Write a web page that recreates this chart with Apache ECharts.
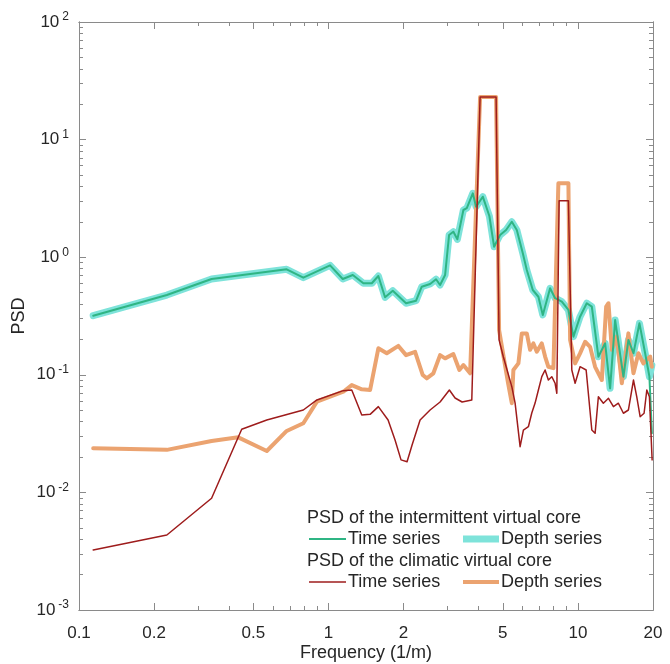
<!DOCTYPE html>
<html>
<head>
<meta charset="utf-8">
<script src="https://cdn.jsdelivr.net/npm/echarts@6/dist/echarts.min.js"></script>
<style>
  html, body { margin: 0; padding: 0; background: #fff; }
  #chart { width: 670px; height: 664px; }
</style>
</head>
<body>
<div id="chart"></div>
<script>
// frequency (1/m), PSD
var intermittentTime = [
  [0.114,0.318],[0.225,0.477],[0.340,0.653],[0.680,0.789],[0.793,0.670],[1.015,0.853],
  [1.141,0.653],[1.252,0.706],[1.380,0.600],[1.492,0.600],[1.585,0.692],[1.686,0.456],
  [1.811,0.519],[2.047,0.406],[2.245,0.427],[2.366,0.561],[2.555,0.592],[2.700,0.649],
  [2.802,0.580],[2.935,0.706],[3.045,1.545],[3.168,1.648],[3.287,1.419],[3.475,2.52],
  [3.586,2.61],[3.790,3.49],[3.907,2.69],[4.156,3.27],[4.416,2.24],[4.613,1.228],
  [4.876,1.545],[5.153,1.704],[5.433,2.00],[5.689,1.704],[6.013,1.079],[6.239,0.778],
  [6.595,0.526],[6.944,0.461],[7.233,0.323],[7.736,0.544],[8.102,0.448],[8.619,0.419],
  [9.161,0.356],[9.594,0.211],[10.20,0.312],[10.85,0.406],[11.37,0.380],[12.08,0.1426],
  [12.86,0.1854],[13.46,0.0767],[14.10,0.292],[15.22,0.0964],[15.94,0.198],[16.70,0.1525],
  [17.65,0.274],[18.60,0.1525],[19.35,0.0964],[19.79,0.0318]
];
var intermittentDepth = [
  [0.114,0.318],[0.225,0.477],[0.340,0.653],[0.680,0.789],[0.793,0.670],[1.015,0.853],
  [1.141,0.653],[1.252,0.706],[1.380,0.600],[1.492,0.600],[1.585,0.692],[1.686,0.456],
  [1.811,0.519],[2.047,0.406],[2.245,0.427],[2.366,0.561],[2.555,0.592],[2.700,0.649],
  [2.802,0.580],[2.935,0.706],[3.045,1.545],[3.168,1.648],[3.287,1.419],[3.475,2.52],
  [3.586,2.61],[3.790,3.49],[3.907,2.69],[4.156,3.27],[4.416,2.24],[4.613,1.228],
  [4.876,1.545],[5.153,1.704],[5.433,2.00],[5.689,1.704],[6.013,1.079],[6.239,0.778],
  [6.595,0.526],[6.944,0.461],[7.233,0.323],[7.736,0.544],[8.102,0.448],[8.619,0.419],
  [9.161,0.356],[9.594,0.211],[10.20,0.312],[10.85,0.406],[11.37,0.380],[12.08,0.1426],
  [12.86,0.1854],[13.46,0.0767],[14.10,0.292],[15.22,0.0964],[15.94,0.198],[16.70,0.1525],
  [17.65,0.274],[18.60,0.1525],[19.35,0.0964],[19.79,0.121]
];
var climaticTime = [
  [0.114,0.00324],[0.225,0.00434],[0.340,0.00891],[0.449,0.0344],[0.566,0.0413],[0.793,0.0502],
  [0.899,0.0611],[1.147,0.0733],[1.24,0.0743],[1.36,0.0455],[1.469,0.0461],[1.585,0.0536],
  [1.734,0.0413],[1.849,0.0279],[1.954,0.0189],[2.066,0.0182],[2.164,0.0253],[2.330,0.0413],
  [2.555,0.0502],[2.802,0.0587],[3.053,0.0743],[3.218,0.0635],[3.434,0.0587],[3.755,0.0611],
  [4.054,23.0],[4.699,23.0],[4.831,0.198],[5.027,0.1417],[5.433,0.0792],[5.601,0.0575],
  [5.865,0.0245],[6.046,0.0339],[6.331,0.0362],[6.533,0.0473],[6.735,0.0575],[6.944,0.0743],
  [7.166,0.0964],[7.387,0.1099],[7.614,0.0903],[7.856,0.0964],[8.102,0.0847],[8.231,0.0696],
  [8.407,3.02],[9.161,3.02],[9.453,0.1099],[9.745,0.0847],[10.20,0.1172],[10.79,0.1099],
  [11.37,0.0339],[11.72,0.0318],[12.08,0.0651],[12.65,0.0573],[13.26,0.0631],[13.88,0.0536],
  [14.53,0.0573],[15.22,0.0471],[15.94,0.0502],[16.70,0.0903],[17.21,0.0651],[17.76,0.0440],
  [18.42,0.0471],[18.89,0.0743],[19.35,0.0651],[19.84,0.0189]
];
var climaticDepth = [
  [0.114,0.0237],[0.225,0.0230],[0.340,0.0274],[0.435,0.0294],[0.566,0.0225],[0.680,0.0333],
  [0.793,0.0387],[0.899,0.0591],[1.147,0.0718],[1.24,0.0818],[1.36,0.0753],[1.469,0.0743],
  [1.585,0.168],[1.713,0.1525],[1.907,0.176],[2.047,0.147],[2.225,0.157],[2.388,0.0996],
  [2.477,0.0933],[2.634,0.103],[2.802,0.147],[2.935,0.138],[3.168,0.150],[3.348,0.110],
  [3.475,0.121],[3.697,0.103],[4.054,23.0],[4.699,23.0],[4.831,0.240],[5.249,0.0851],
  [5.433,0.0573],[5.513,0.110],[5.773,0.125],[5.957,0.225],[6.239,0.225],[6.432,0.163],
  [6.631,0.185],[6.842,0.157],[7.166,0.185],[7.387,0.143],[7.614,0.117],[7.977,0.114],
  [8.351,4.25],[9.161,4.25],[9.306,0.198],[9.745,0.125],[10.20,0.152],[10.69,0.191],
  [11.19,0.173],[11.72,0.117],[12.47,0.0903],[12.98,0.380],[13.26,0.406],[13.68,0.163],
  [14.32,0.211],[15.00,0.0847],[15.94,0.225],[16.70,0.103],[17.48,0.1525],[18.30,0.125],
  [19.48,0.143],[19.79,0.117]
];

var xMajor = [0.1, 0.2, 0.5, 1, 2, 5, 10, 20];
var xMinor = [0.3, 0.4, 0.6, 0.7, 0.8, 0.9, 3, 4, 6, 7, 8, 9];
var yMajor = [0.001, 0.01, 0.1, 1, 10, 100];
var yMinor = [0.002,0.003,0.004,0.005,0.006,0.007,0.008,0.009,
              0.02,0.03,0.04,0.05,0.06,0.07,0.08,0.09,
              0.2,0.3,0.4,0.5,0.6,0.7,0.8,0.9,
              2,3,4,5,6,7,8,9,
              20,30,40,50,60,70,80,90];

var FONT = 'Liberation Sans';
var axisGray = '#8a8a8a';
var txt = '#262626';

function xAx(pos, ticks, len, labels) {
  return {
    type: 'log', logBase: 10, min: 0.1, max: 20, position: pos,
    axisLine: { show: true, lineStyle: { color: axisGray, width: 1 } },
    axisTick: { show: true, inside: true, length: len, customValues: ticks,
                lineStyle: { color: axisGray } },
    axisLabel: labels ? { show: true, customValues: xMajor, color: txt, fontSize: 17,
                          fontFamily: FONT, margin: 15,
                          formatter: function (v) { return String(+v.toPrecision(3)); } }
                      : { show: false },
    splitLine: { show: false }
  };
}
function yAx(pos, ticks, len, labels) {
  return {
    type: 'log', logBase: 10, min: 0.001, max: 100, position: pos,
    axisLine: { show: true, lineStyle: { color: axisGray, width: 1 } },
    axisTick: { show: true, inside: true, length: len, customValues: ticks,
                lineStyle: { color: axisGray } },
    axisLabel: labels ? {
      show: true, customValues: yMajor, margin: 10,
      formatter: function (v) {
        var e = Math.round(Math.log(v) / Math.LN10);
        return '{b|10}{e|' + e + '}';
      },
      rich: {
        b: { fontSize: 17, color: txt, fontFamily: FONT },
        e: { fontSize: 12, color: txt, fontFamily: FONT, padding: [0, 0, 10, 3] }
      }
    } : { show: false },
    splitLine: { show: false }
  };
}

var xAxes = [xAx('bottom', xMajor, 7, true), xAx('bottom', xMinor, 4, false),
             xAx('top', xMajor, 7, false), xAx('top', xMinor, 4, false)];
xAxes[0].name = 'Frequency (1/m)';
xAxes[0].nameLocation = 'middle';
xAxes[0].nameGap = 34;
xAxes[0].nameMoveOverlap = false;
xAxes[0].nameTextStyle = { color: txt, fontSize: 18, fontFamily: FONT };

var yAxes = [yAx('left', yMajor, 7, true), yAx('left', yMinor, 4, false),
             yAx('right', yMajor, 7, false), yAx('right', yMinor, 4, false)];
yAxes[0].name = 'PSD';
yAxes[0].nameLocation = 'middle';
yAxes[0].nameGap = 51;
yAxes[0].nameMoveOverlap = false;
yAxes[0].nameTextStyle = { color: txt, fontSize: 18, fontFamily: FONT };

function line(name, data, color, width, z) {
  return {
    name: name, type: 'line', data: data, xAxisIndex: 0, yAxisIndex: 0,
    symbol: 'none', showSymbol: false, z: z, silent: true,
    lineStyle: { color: color, width: width, join: 'round', cap: 'round' }
  };
}

var cCyan = '#7ee3da', cGreen = '#2fb584', cRed = '#9e1c1c', cOrange = '#eba370';

var legendFont = '18px "Liberation Sans"';
function gText(s, x, y) {
  return { type: 'text', silent: true, z: 10,
           style: { text: s, x: x, y: y, fill: txt, font: legendFont,
                    textVerticalAlign: 'middle', verticalAlign: 'middle' } };
}
function gLine(x1, x2, y, color, w) {
  return { type: 'line', silent: true, z: 10,
           shape: { x1: x1, y1: y, x2: x2, y2: y },
           style: { stroke: color, lineWidth: w } };
}

var chart = echarts.init(document.getElementById('chart'), null, { renderer: 'canvas' });
var option = {
  animation: false,
  backgroundColor: '#fff',
  grid: { left: 79, right: 17, top: 22, bottom: 54, containLabel: false,
          outerBoundsMode: 'none' },
  xAxis: xAxes,
  yAxis: yAxes,
  series: [
    line('Depth series (intermittent)', intermittentDepth, cCyan, 7, 2),
    line('Depth series (climatic)', climaticDepth, cOrange, 4, 3),
    line('Time series (intermittent)', intermittentTime, cGreen, 2, 4),
    line('Time series (climatic)', climaticTime, cRed, 1.5, 5)
  ],
  graphic: [
    gText('PSD of the intermittent virtual core', 307, 518),
    gLine(309, 346, 539, cGreen, 2),
    gText('Time series', 348, 539),
    gLine(463, 499, 539, cCyan, 7),
    gText('Depth series', 501, 539),
    gText('PSD of the climatic virtual core', 307, 561),
    gLine(309, 346, 582, cRed, 1.5),
    gText('Time series', 348, 582),
    gLine(463, 499, 582, cOrange, 4),
    gText('Depth series', 501, 582)
  ]
};
chart.setOption(option);
window.onresize = function () { chart.resize(); };
</script>
</body>
</html>
